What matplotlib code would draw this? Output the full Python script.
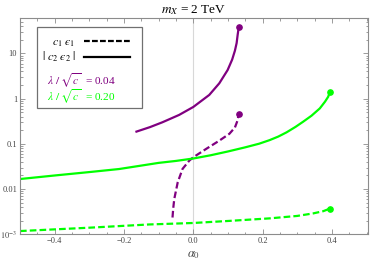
import numpy as np
import matplotlib
matplotlib.use("Agg")
import matplotlib.pyplot as plt
from matplotlib.lines import Line2D
from matplotlib.patches import Rectangle
from matplotlib.ticker import FixedLocator, FixedFormatter, LogLocator, NullFormatter

plt.rcParams['font.family'] = ['Liberation Serif', 'DejaVu Serif']
plt.rcParams['mathtext.fontset'] = 'stix'

purple = '#800080'
green = '#00ff00'

# lambda/sqrt(c) = 0.04
a_p_solid = [-0.164, -0.125, -0.089, -0.041, 0.0, 0.046, 0.075, 0.099, 0.112, 0.12, 0.125, 0.128, 0.131]
y_p_solid = [0.187, 0.235, 0.301, 0.437, 0.656, 1.21, 2.19, 4.3, 7.3, 11.5, 17, 26, 37.7]
a_p_dash = [-0.06, -0.058, -0.055, -0.045, -0.031, -0.0116, 0.0, 0.037, 0.075, 0.104, 0.12, 0.127, 0.131]
y_p_dash = [0.00235, 0.0037, 0.006, 0.0141, 0.028, 0.0426, 0.0506, 0.0774, 0.118, 0.167, 0.23, 0.32, 0.448]

# lambda/sqrt(c) = 0.20
a_g_solid = [-0.5, -0.4, -0.3, -0.214, -0.1, -0.05, 0.0, 0.05, 0.1, 0.15, 0.19, 0.22, 0.245, 0.269,
             0.295, 0.317, 0.341, 0.365, 0.38, 0.389, 0.394]
y_g_solid = [0.0167, 0.0200, 0.0238, 0.0278, 0.038, 0.042, 0.0475, 0.056, 0.068, 0.084, 0.101, 0.121,
             0.145, 0.18, 0.238, 0.31, 0.42, 0.61, 0.86, 1.1, 1.4]
a_g_dash = [-0.5, -0.3, -0.128, 0.0, 0.104, 0.22, 0.3, 0.346, 0.375, 0.394]
y_g_dash = [1.18e-3, 1.4e-3, 1.65e-3, 1.78e-3, 1.98e-3, 2.25e-3, 2.55e-3, 2.9e-3, 3.25e-3, 3.7e-3]

xticks = [-0.4, -0.2, 0.0, 0.2, 0.4]
xtick_labels = ['\u22120.4', '\u22120.2', '0.0', '0.2', '0.4']
yticks = [1e-3, 1e-2, 1e-1, 1, 10]
ytick_labels = ['$10^{-3}$', '0.01', '0.1', '1', '10']

fig = plt.figure(figsize=(3.74, 2.65), dpi=100)
ax = fig.add_axes([20/374, 1-234.3/265, 348/374, 216/265])

ax.axvline(0, color='#d8d8d8', lw=0.8, zorder=0)

lw = 1.6
dash = (3.0, 1.4)
ax.plot(a_p_solid, y_p_solid, color=purple, lw=lw, solid_joinstyle='round')
ax.plot(a_p_dash, y_p_dash, color=purple, lw=lw, dashes=dash)
ax.plot(a_g_solid, y_g_solid, color=green, lw=lw, solid_joinstyle='round')
ax.plot(a_g_dash, y_g_dash, color=green, lw=lw, dashes=dash)

# end points
ax.plot([a_p_solid[-1], a_p_dash[-1]], [y_p_solid[-1], y_p_dash[-1]], 'o', color=purple, ms=3.8, ls='none')
ax.plot([a_g_solid[-1], a_g_dash[-1]], [y_g_solid[-1], y_g_dash[-1]], 'o', color=green, ms=3.8, ls='none')

ax.set_yscale('log')
ax.set_xlim(-0.5, 0.504)
ax.set_ylim(1e-3, 60)

ax.xaxis.set_major_locator(FixedLocator(xticks))
ax.xaxis.set_major_formatter(FixedFormatter(xtick_labels))
ax.xaxis.set_minor_locator(FixedLocator(np.arange(-0.5, 0.51, 0.05)))
ax.yaxis.set_major_locator(FixedLocator(yticks))
ax.yaxis.set_major_formatter(FixedFormatter(ytick_labels))
ax.yaxis.set_minor_locator(LogLocator(base=10, subs=np.arange(2, 10)))
ax.yaxis.set_minor_formatter(NullFormatter())

frame = '#8c8c8c'
for s in ax.spines.values():
    s.set_color(frame)
    s.set_linewidth(0.8)
ax.tick_params(which='both', direction='in', top=True, right=True, color=frame, width=0.6,
               labelsize=6, labelcolor='#444444', pad=2)
ax.tick_params(which='major', length=3.5)
ax.tick_params(which='minor', length=1.8)

ax.set_xlabel(r'$\alpha_0$', fontsize=9, color='#444444', labelpad=3)
ax.set_title(r'$m_X$ = 2 TeV', fontsize=9.5, pad=4)

# legend box
ax.add_patch(Rectangle((0.049, 0.585), 0.302, 0.375, transform=ax.transAxes,
                       facecolor='white', edgecolor='#707070', lw=0.9, zorder=5))
handles = [Line2D([], [], color='black', lw=1.6, dashes=(2.6, 1.0)),
           Line2D([], [], color='black', lw=1.6)]
labels = ['$c_1\\ \u03f5_1$', '$|\\ c_2\\ \u03f5_2\\ |$']
leg = ax.legend(handles, labels, loc='upper left', bbox_to_anchor=(0.062, 0.917), frameon=False,
                markerfirst=False, fontsize=8.5, handlelength=3.9, handletextpad=0.7,
                labelspacing=0.1, borderpad=0.0, borderaxespad=0.0)
leg.set_zorder(6)
ax.text(0.078, 0.712, r'$\lambda\ /\ \sqrt{c}\ $ = 0.04', transform=ax.transAxes,
        color=purple, fontsize=8.2, va='center', zorder=6)
ax.text(0.078, 0.635, r'$\lambda\ /\ \sqrt{c}\ $ = 0.20', transform=ax.transAxes,
        color=green, fontsize=8.2, va='center', zorder=6)

fig.savefig('out.png', dpi=100)
